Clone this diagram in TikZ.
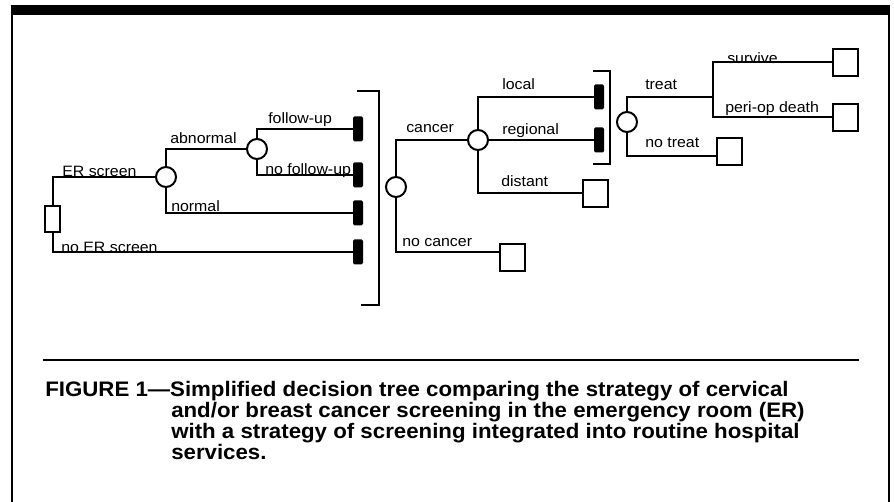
\documentclass[tikz,border=0pt]{standalone}
\usepackage{fontspec}
\newfontfamily\lblfont[FakeStretch=1.06]{Liberation Sans}
\newfontfamily\capfont[FakeStretch=1.06]{Liberation Sans}
\newlength\pxu
\setlength\pxu{0.75pt}
\begin{document}
\begin{tikzpicture}[x=0.75pt,y=-0.75pt,
  tree/.style={line width=2\pxu,line cap=rect},
  chance/.style={circle,draw,line width=2\pxu,minimum size=20\pxu,inner sep=0pt,fill=white},
  decision/.style={rectangle,draw,line width=2\pxu,minimum width=15\pxu,minimum height=26\pxu,inner sep=0pt,fill=white},
  markov/.style={rectangle,rounded corners=1.5\pxu,fill=black,minimum width=10\pxu,minimum height=25\pxu,inner sep=0pt},
  terminal/.style={rectangle,draw,line width=2\pxu,minimum width=25\pxu,minimum height=27\pxu,inner sep=0pt,fill=white},
  lbl/.style={anchor=base west,inner sep=0pt,font=\lblfont\fontsize{11.25pt}{13pt}\selectfont},
  captext/.style={anchor=base west,inner sep=0pt,font=\capfont\bfseries\fontsize{15.75pt}{18pt}\selectfont},
  framerule/.style={line width=2\pxu}]
\useasboundingbox (0,0) rectangle (894,502);
% frame
\fill (11,5) rectangle (890,15);
\draw[framerule] (12,15) -- (12,502);
\draw[framerule] (889,15) -- (889,502);
\draw[line width=1.5\pxu] (43,360) -- (859,360);
% nodes
\node[decision] (dec) at (52.5,219) {};
\node[chance] (c1) at (166,177) {};
\node[chance] (c2) at (257,149) {};
\node[chance] (c3) at (396,187) {};
\node[chance] (c4) at (478,140) {};
\node[chance] (c5) at (627,122) {};
\node[markov] (b1) at (358,129) {};
\node[markov] (b2) at (358,175) {};
\node[markov] (b3) at (358,213) {};
\node[markov] (b4) at (358,252) {};
\node[markov] (b5) at (599,97) {};
\node[markov] (b6) at (599,140) {};
\node[terminal] (snc) at (512.5,258) {};
\node[terminal] (sdi) at (595.5,193.5) {};
\node[terminal] (snt) at (729,151.5) {};
\node[terminal] (ssv) at (845.5,62.5) {};
\node[terminal] (spd) at (845.5,117.5) {};
\coordinate (tj) at (713,97);
% connectors
\draw[tree] (dec.north) |- (c1.west);
\draw[tree] (dec.south) |- (b4.west);
\draw[tree] (c1.north) |- (c2.west);
\draw[tree] (c1.south) |- (b3.west);
\draw[tree] (c2.north) |- (b1.west);
\draw[tree] (c2.south) |- (b2.west);
\draw[tree] (c3.north) |- (c4.west);
\draw[tree] (c3.south) |- ([yshift=6\pxu]snc.west);
\draw[tree] (c4.north) |- (b5.west);
\draw[tree] (c4.east) -- (b6.west);
\draw[tree] (c4.south) |- (sdi.west);
\draw[tree] (c5.north) |- (tj);
\draw[tree] (c5.south) |- ([yshift=-4.5\pxu]snt.west);
\draw[tree] (tj) |- (ssv.west);
\draw[tree] (tj) |- (spd.west);
% brackets
\draw[tree,line cap=butt] (357,91) -- (379,91) -- (379,305) -- (361,305);
\draw[tree,line cap=butt] (593,71) -- (610,71) -- (610,164) -- (593,164);
% labels
\node[lbl] (l1) at (62,177) {ER screen};
\node[lbl] (l2) at (170,144) {abnormal};
\node[lbl] (l3) at (268,124) {follow-up};
\node[lbl] (l4) at (265,175) {no follow-up};
\node[lbl] (l5) at (171,212) {normal};
\node[lbl] (l6) at (61,253) {no ER screen};
\node[lbl] (l7) at (406,133) {cancer};
\node[lbl] (l8) at (402,247) {no cancer};
\node[lbl] (l9) at (502,90) {local};
\node[lbl] (l10) at (502,135) {regional};
\node[lbl] (l11) at (501,187) {distant};
\node[lbl] (l12) at (645,90) {treat};
\node[lbl] (l13) at (645,148) {no treat};
\node[lbl] (l14) at (727,64) {survive};
\node[lbl] (l15) at (725,113) {peri-op death};
% caption
\node[captext] (cap1) at (45,397) {FIGURE 1—Simplified decision tree comparing the strategy of cervical};
\node[captext] (cap2) at (171,418) {and/or breast cancer screening in the emergency room (ER)};
\node[captext] (cap3) at (171,439) {with a strategy of screening integrated into routine hospital};
\node[captext] (cap4) at (171,460) {services.};
\end{tikzpicture}
\end{document}
